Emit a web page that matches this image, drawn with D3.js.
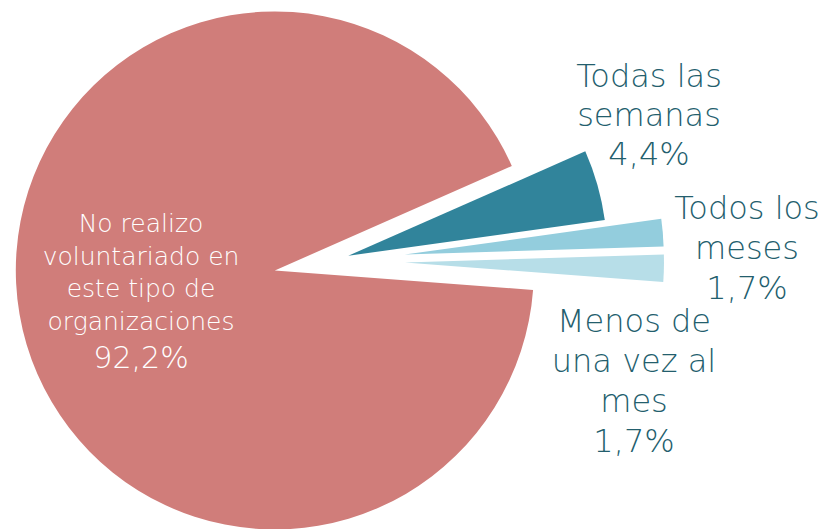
<!DOCTYPE html>
<meta charset="utf-8">
<body style="margin:0;background:#fff">
<svg width="825" height="529" font-family="'DejaVu Sans', sans-serif"></svg>
</body>
<script src="https://d3js.org/d3.v7.min.js"></script>
<script>

// data
var categories = ["No realizo voluntariado en este tipo de organizaciones", "Todas las semanas", "Todos los meses", "Menos de una vez al mes"];
var values = [92.2, 4.4, 1.7, 1.7];
// how each label is broken into lines in the original
var labelLines = [
  ["No realizo", "voluntariado en", "este tipo de", "organizaciones"],
  ["Todas las", "semanas"],
  ["Todos los", "meses"],
  ["Menos de", "una vez al", "mes"]
];

var colors = ["#d07d7a", "#31849b", "#93cddd", "#b7dee8"];
var explode = [56, 19, 75, 75];

var svg = d3.select("svg"),
    cx = 330, cy = 261,
    radius = 259;

var locale = d3.formatLocale({decimal: ",", thousands: ".", grouping: [3]});
var fmt = locale.format(".1f");

var start = 94.3 * Math.PI / 180;
var pie = d3.pie().sort(null)
    .startAngle(start)
    .endAngle(start + 2 * Math.PI);

var arc = d3.arc().innerRadius(0).outerRadius(radius);

var slices = pie(values);

var g = svg.append("g").attr("transform", "translate(" + cx + "," + cy + ")");

g.selectAll("path")
  .data(slices)
  .enter().append("path")
    .attr("d", arc)
    .attr("fill", function(d, i) { return colors[i]; })
    .attr("transform", function(d, i) {
      var a = (d.startAngle + d.endAngle) / 2;
      return "translate(" + (Math.sin(a) * explode[i]) + "," + (-Math.cos(a) * explode[i]) + ")";
    });

// label placement (centre x, first baseline y, line gap, sizes, colour)
var labelPos = [
  {x: 141, y: 232, gap: 32.7, size: 25, pctSize: 30, pctGap: 38, color: "#ffffff"},
  {x: 649, y: 87, gap: 39, size: 32, pctSize: 32, pctGap: 39, color: "#235e6d"},
  {x: 747, y: 219, gap: 40, size: 32, pctSize: 32, pctGap: 40, color: "#235e6d"},
  {x: 634, y: 332, gap: 40, size: 32, pctSize: 32, pctGap: 40, color: "#235e6d"}
];

slices.forEach(function(d, i) {
  var p = labelPos[i];
  var t = svg.append("text")
      .attr("text-anchor", "middle")
      .attr("fill", p.color)
      .attr("font-weight", 300)
      .attr("font-size", p.size);
  labelLines[i].forEach(function(line, j) {
    t.append("tspan")
      .attr("x", p.x)
      .attr("y", p.y + j * p.gap)
      .text(line);
  });
  t.append("tspan")
    .attr("x", p.x)
    .attr("y", p.y + (labelLines[i].length - 1) * p.gap + p.pctGap)
    .attr("font-size", p.pctSize)
    .text(fmt(d.data) + "%");
});

</script>
